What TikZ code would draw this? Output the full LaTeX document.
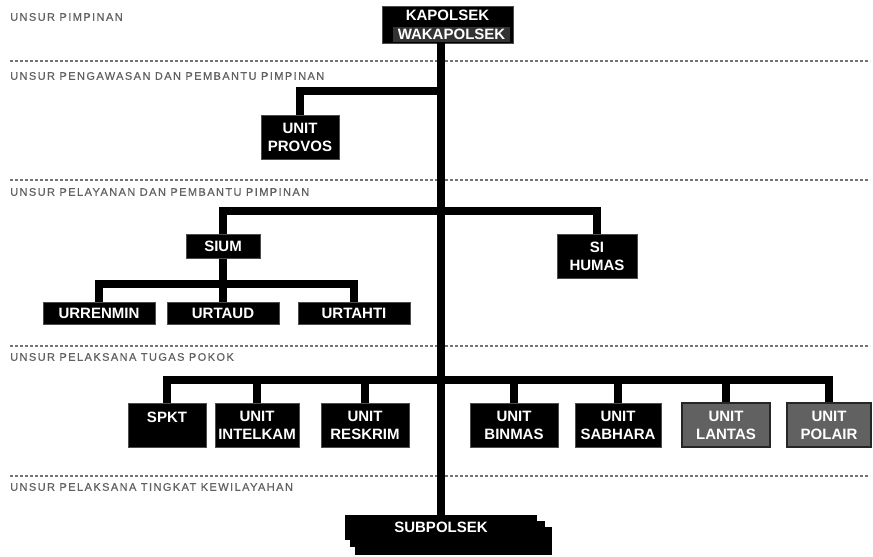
\documentclass[tikz,border=0pt]{standalone}
\usepackage{fontspec}
\setmainfont{Liberation Sans}
\newfontfamily\unsurfont[LetterSpace=13, FakeBold=0.6]{Liberation Sans}
\usepackage{xcolor}
\usepackage{tikz}
\usetikzlibrary{positioning, calc}

\tikzset{
  unit/.style={rectangle, fill=black, draw=black!70, line width=1pt, text=white,
    font=\bfseries\fontsize{15}{18}\selectfont, align=center, inner sep=0pt,
    minimum height=44},
  unitgray/.style={unit, fill=black!62, draw=black!85, line width=1.6pt},
  conn/.style={line width=8.5pt, black},
  sep/.style={black!55, line width=1.4pt, dash pattern=on 3pt off 2pt},
  unsur/.style={anchor=west, inner sep=0pt, text=black!62,
    font=\unsurfont\fontsize{11}{12}\selectfont},
}

\begin{document}
\begin{tikzpicture}[x=1pt, y=-1pt]
  \useasboundingbox (0,0) rectangle (873,557);
  % trunk x and the level rails
  \def\Tx{441}
  \def\Ya{91}
  \def\Yb{211}
  \def\Yc{284}
  \def\Yd{380}
  % dashed separators
  \foreach \ys in {61, 180, 346, 476} {
    \draw[sep] (10,\ys) -- (870,\ys);
  }
  % section labels
  \node[unsur] (lblpimpinan) at (10,17) {UNSUR PIMPINAN};
  \node[unsur] (lblpengawasan) at (10,76) {UNSUR PENGAWASAN DAN PEMBANTU PIMPINAN};
  \node[unsur] (lblpelayanan) at (10,192) {UNSUR PELAYANAN DAN PEMBANTU PIMPINAN};
  \node[unsur] (lbltugas) at (10,357) {UNSUR PELAKSANA TUGAS POKOK};
  \node[unsur] (lblwilayah) at (10,487) {UNSUR PELAKSANA TINGKAT KEWILAYAHAN};

  % pimpinan box
  \node[unit, minimum width=131, minimum height=37] (pimpinan) at (447.5,24.5) {};
  \node[unit, draw=none, fill=black!80, minimum width=117, minimum height=15] (wakapolsek) at (451.5,34.5) {WAKAPOLSEK};
  \node[unit, draw=none, fill=none, minimum height=0] (kapolsek) at (447.5,15.5) {KAPOLSEK};
  \coordinate (trunktop) at (\Tx,43);

  % subpolsek stack
  \fill[black] (355,527) rectangle (552,555);
  \fill[black] (350,521) rectangle (545,547);
  \node[unit, draw=none, minimum width=192, minimum height=25] (subpolsek) at (441,527.5) {SUBPOLSEK};

  % pengawasan
  \node[unit, minimum width=78] (provos) at (300,137) {UNIT\\PROVOS};
  % pelayanan
  \node[unit, minimum width=74, minimum height=24] (sium) at (223,246) {SIUM};
  \node[unit, minimum width=80] (humas) at (597,256) {SI\\HUMAS};
  \node[unit, minimum width=112, minimum height=22] (urrenmin) at (99,313) {URRENMIN};
  \node[unit, minimum width=112, minimum height=22] (urtaud) at (223,313) {URTAUD};
  \node[unit, minimum width=112, minimum height=22] (urtahti) at (354,313) {URTAHTI};
  % tugas pokok
  \node[unit, minimum width=78] (spkt) at (167,425) {SPKT\\[-2pt]\phantom{X}};
  \node[unit, minimum width=84] (intelkam) at (257,425) {UNIT\\INTELKAM};
  \node[unit, minimum width=88] (reskrim) at (365,425) {UNIT\\RESKRIM};
  \node[unit, minimum width=88] (binmas) at (514,425) {UNIT\\BINMAS};
  \node[unit, minimum width=86] (sabhara) at (618,425) {UNIT\\SABHARA};
  \node[unitgray, minimum width=88] (lantas) at (726,425) {UNIT\\LANTAS};
  \node[unitgray, minimum width=84] (polair) at (829,425) {UNIT\\POLAIR};

  % junctions on the trunk
  \coordinate (jprovos) at (\Tx,\Ya);
  \coordinate (jlayan) at (\Tx,\Yb);
  \coordinate (jur) at (\Tx,\Yc);
  \coordinate (jtugas) at (\Tx,\Yd);

  % connectors
  \draw[conn] (trunktop) -- (trunktop |- subpolsek.north);
  \draw[conn] (jprovos) -| (provos.north);
  \draw[conn] (sium.north) |- (humas.north |- jlayan) -- (humas.north);
  \draw[conn] (sium.south) -- (urtaud.north);
  \draw[conn] (urrenmin.north) |- (urtahti.north |- jur) -- (urtahti.north);
  \draw[conn] (spkt.north) |- (polair.north |- jtugas) -- (polair.north);
  \foreach \u in {intelkam, reskrim, binmas, sabhara, lantas} {
    \draw[conn] (\u.north) -- (\u.north |- jtugas);
  }
\end{tikzpicture}
\end{document}
